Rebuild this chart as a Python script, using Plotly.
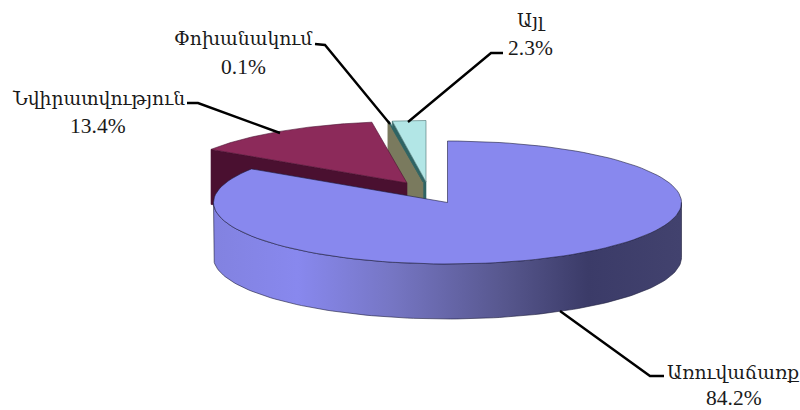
"""
3D exploded pie drawn on a pixel-like scatter axis (Plotly has no 3D pie)
"""

import numpy as np
import plotly.graph_objects as go

# Data
labels = ["Առուվաճառք", "Նվիրատվություն", "Փոխանակում", "Այլ"]
values = [84.2, 13.4, 0.1, 2.3]

# Pie geometry
RX, RY = 234, 61.5
DEPTH = 55
tips = [(447.5, 202.5), (407, 183), (423, 182), (426, 182)]

# Slice colours
top_colors = ["#8888ee", "#8c2a5a", "#2f6464", "#b2e6e6"]
wall_colors = [None, "#4a1030", "#7a7a5e", "#2f6464"]
edge_color = "#1c1c3c"

# Label + leader placement
name_xy = [(733, 372), (98, 98), (243, 38), (531, 20)]
value_xy = [(734, 398), (98, 126), (243, 67), (530, 48)]
leaders = [
    ([560, 650, 664], [311, 376, 376]),
    ([187, 198, 280], [103, 103, 133]),
    ([315, 325, 390], [44, 45, 124]),
    ([503, 491, 408], [53, 53, 122]),
]

# Angles, clockwise from 12 o'clock
edges = np.concatenate([[0], np.cumsum(values)]) / sum(values) * 360


def rim(tip, a0, a1, n=120):
    t = np.radians(np.linspace(a0, a1, n))
    return tip[0] + RX * np.sin(t), tip[1] - RY * np.cos(t)


def wedge(i):
    x, y = rim(tips[i], edges[i], edges[i + 1])
    return (
        np.concatenate([[tips[i][0]], x, [tips[i][0]]]),
        np.concatenate([[tips[i][1]], y, [tips[i][1]]]),
    )


def cut_wall(i):
    # back cut face of a slice, starting at its first angle
    x, y = rim(tips[i], edges[i], edges[i], n=1)
    px = [x[0], tips[i][0], tips[i][0], x[0], x[0]]
    py = [y[0], tips[i][1], tips[i][1] + DEPTH, y[0] + DEPTH, y[0]]
    return px, py


def poly(x, y, color, line_color=None, width=0.6):
    return go.Scatter(
        x=x, y=y, mode="lines", fill="toself", fillcolor=color,
        line=dict(color=line_color or color, width=width),
        hoverinfo="skip", showlegend=False,
    )


fig = go.Figure()

# Back slices first, big slice last so it hides their walls
fig.add_trace(poly(*cut_wall(3), wall_colors[3]))
fig.add_trace(poly(*cut_wall(2), wall_colors[2]))
fig.add_trace(poly(*wedge(2), top_colors[2]))
fig.add_trace(poly(*wedge(3), top_colors[3], "#4a7070"))
fig.add_trace(poly(*cut_wall(1), wall_colors[1]))
fig.add_trace(poly(*wedge(1), top_colors[1], "#4a1030"))

# Outer side of the big slice, front half of the ellipse
tx, ty = rim(tips[0], 90, 270)
side = go.Scatter(
    x=np.concatenate([tx, tx[::-1], tx[:1]]),
    y=np.concatenate([ty, ty[::-1] + DEPTH, ty[:1]]),
    mode="lines", fill="toself",
    line=dict(color=edge_color, width=0.6),
    fillgradient=dict(
        type="horizontal",
        colorscale=[
            [0.0, "#8282e0"],
            [0.18, "#8888ee"],
            [0.38, "#7676c4"],
            [0.62, "#57578e"],
            [0.80, "#3b3b68"],
            [1.0, "#42426e"],
        ],
    ),
    hoverinfo="skip", showlegend=False,
)
fig.add_trace(side)
fig.add_trace(poly(*wedge(0), top_colors[0], edge_color))

# Leader lines
for lx, ly in leaders:
    fig.add_trace(go.Scatter(
        x=lx, y=ly, mode="lines", line=dict(color="#000000", width=2.4),
        hoverinfo="skip", showlegend=False,
    ))

# Labels, name and percentage sit on separate lines with different sizes
label_font = "'Liberation Serif', 'DejaVu Serif', serif"
for name, val, nxy, vxy in zip(labels, values, name_xy, value_xy):
    fig.add_annotation(
        x=nxy[0], y=nxy[1], text=name, showarrow=False,
        xanchor="center", yanchor="middle",
        font=dict(family=label_font, size=18.7, color="#1a1a1a"),
    )
    fig.add_annotation(
        x=vxy[0], y=vxy[1], text=f"{val:.1f}%", showarrow=False,
        xanchor="center", yanchor="middle",
        font=dict(family=label_font, size=21.5, color="#1a1a1a"),
    )

fig.update_layout(
    width=800, height=410,
    margin=dict(l=0, r=0, t=0, b=0),
    paper_bgcolor="white", plot_bgcolor="white",
    showlegend=False,
)
fig.update_xaxes(range=[0, 800], visible=False)
fig.update_yaxes(range=[410, 0], visible=False)

# Page body margin would push the figure 8px off
fig.write_html(
    "out.html",
    config={"displayModeBar": False},
    post_script="document.body.style.margin = '0';",
)
